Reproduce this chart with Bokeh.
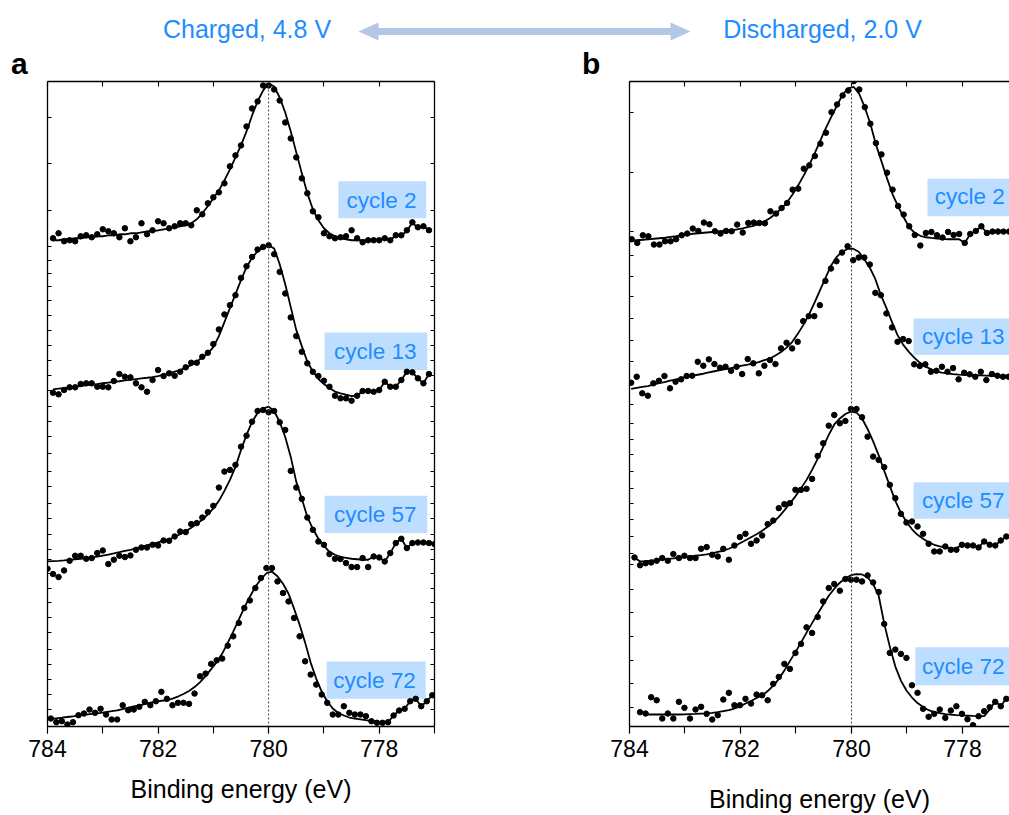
import numpy as np
from bokeh.plotting import figure
from bokeh.models import (Range1d, LinearAxis, FixedTicker, Span, CustomLabelingPolicy,
                          CustomJSTickFormatter)
from bokeh.layouts import column, row
from bokeh.core.properties import value
from bokeh.embed import file_html
from bokeh.resources import INLINE

STEP = 0.1  # eV sampling
NAN = float("nan")

# ---------------- panel a (charged, 4.8 V) : intensities (a.u., offset-stacked)
A2_START, A13_START, A57_START, A72_START = 783.9, 783.9, 784.0, 783.94
A2_dots = [489,494,486,487,486,491,492,490,493,498, 496,494,490,499,486,490,504,493,497,506,
           504,499,501,504,504,502,517,513,524,530, 535,544,561,572,582,601,619,626,642,642,
           638,627,605,589,570,549,534,516,510,494, 491,489,490,491,497,489,485,487,487,487,
           489,487,492,492,497,505,500,501,497]
A2_fit = [487,487,488,488,489,489,490,490,491,491, 492,492,493,493,494,494,495,496,496,497,
          498,499,500,501,502,504,508,514,521,529, 537,547,558,570,582,596,612,626,637,644,
          641,630,615,596,575,554,534,518,507,499, 494,491,489,488,487,487,487,487,487,488,
          489,487,492,492,496,505,499,501,497]
A13_dots = [334.3,332.7,337,339.7,339.7,343,343.7,343.7,340.3,340.3, 339.7,346,353,350.3,349.7,343.7,339.7,335.3,347,357,
            351,353.7,351.3,355.3,359.7,364.3,364.3,370.3,374.3,383, 397.7,412.7,422,432,449.3,461,470.3,477.7,480.3,482,
            473,455.3,433.7,409.7,391,375.3,363.7,355.3,351,346.3, 340.3,331.3,328.7,328.7,326.3,331.3,336,336,335.3,337,
            345.3,340.3,340.3,347,355.3,354.7,348.7,343.7,353]
A13_fit = [337.6,338.3,339,339.7,340.4,341,341.8,342.4,343,343.8, 344.5,345.2,345.8,346.6,347.2,348,348.7,349.3,350,351,
           352.3,353.8,355.5,357,359.5,362,365.5,369.5,373.7,380, 391,405,419,433,447,460,469.5,476,480,482,
           478.7,463,443,420,397,381,365.3,355.5,348,343, 339,335.5,333.7,332.3,331,331.3,336,336,335.3,337,
           345.3,340.3,340.3,347,355.3,354.7,348.7,343.7,353]
A57_dots = [158,152.7,149.7,156.3,166,171,171,168,168.7,173.7, 176.3,162.7,167,171,169.7,171.3,177,179.3,179.3,182,
            181.3,186.3,186,190.3,195.3,194.7,202.7,203.7,209.3,214.7, 221,239.3,255.3,257,262,280.3,291.3,305.3,316,317,
            314.7,316,304.7,297,256,239.3,228,209.3,197,185.3, 182,172.7,168,167.7,163.7,159.7,159.7,168.7,159.7,170.3,
            169.3,165.3,173.7,183.7,188,178.7,183.7,184.3,184.3,183.7,182.7]
A57_fit = [165.3,165.6,165.9,166.3,166.9,167.5,168,168.6,169.3,170.2, 171.2,172.2,173.3,174.6,176,177,178.5,180,181.5,183,
           184.5,186,187.5,190,192.5,195.5,199,203,207,212.5, 218.5,226,236,247,260,277,292,305,314,318.5,
           320.3,316,305,290,270,245,228,210,198,188, 181,175,172,170,169,168,167.5,167,167,170.3,
           169.3,165.3,173.7,183.7,188,178.7,183.7,184.3,184.3,183.7,182.7]
A72_dots = [8,4.3,5.3,2,4.3,11.3,13,17,13.7,17.7, 12,7,7,21.3,16.3,17,19.7,24.7,21.3,25.3,
            34.7,27.7,21.3,23.7,23.7,22.7,33,50.3,53,62.7, 66.3,68,81,90.3,103.7,118.7,126.3,138.7,148.7,158.7,
            158.7,145.3,133.7,125.3,108.7,90.3,65.3,52,42,32, 23.7,12,12,20.3,13.7,12,12,10.3,5.3,3.7,
            3.7,4.3,11,16,17.7,25.3,27.7,20.3,25.3,31.3]
A72_fit = [7.5,8.2,8.8,9.5,10.2,10.9,11.6,12.3,13,13.6, 14.5,15.3,16.2,17.5,18.8,20.2,21.2,22.5,23.8,24.8,
           25.8,26.3,28,30,32.5,35.5,39.5,44.5,50.5,57.5, 64.5,73,83.7,95,107,119,130,140,147.5,153.5,
           155,150.5,143,133,118,102,84,64,48,35, 25,18,13.5,11,9,8,7.2,6.3,5.5,4.8,
           4.3,4.3,11,16,17.7,25.3,27.7,20.3,25.3,31.3]

# ---------------- panel b (discharged, 2.0 V)
B2_START, B13_START, B57_START, B72_START = 784.06, 783.97, 783.91, 783.81
B2_dots = [484.7,488,484.3,492,491,482.7,482.7,486,486,488, 492,493.7,498.7,496.3,504.7,503,496,493.7,496.3,496,
           502.7,494.7,504.3,504.7,504.3,504,516,513.7,519.3,524.3, 537.7,538.7,558.7,562,571.3,583.7,594.7,615.3,623,632,
           637,646.3,638,620.3,603.7,584.3,573,554.7,537.7,521.3, 512.7,501,492.3,481.7,494.3,495.3,492,489.7,495.3,492.3,
           493.3,484.3,493.3,496.3,501,494.3,495.7,495.7,495.7,495.7]
B2_fit = [485.5,486.5,487,487.5,488,488.5,489,489.5,490.3,491, 492,492.7,493.5,494,494.5,495,495.5,496,496.5,497,
          498,499,500.3,501.5,503.5,506,509.5,514,519,525, 533,542,552,562.5,574.5,587,599.5,611,622,633,
          639,640.5,633.5,620,603.7,583,566,549,533,521, 510,500,494.5,491.5,490,489.3,488.7,488.3,488,488,
          488,484.3,493.3,496.3,501,494.3,495.7,495.7,495.7,495.7]
B13_dots = [344.3,350.3,333.7,331.3,343.7,346.3,351,338.7,345.3,347.7, 351,351.3,365.3,361.3,367.7,363,359.3,360.3,356.3,360.3,
            353,368,363.7,353.7,361.3,367,363,378.7,384.3,378.7, 385.3,406,411,411,422,446.3,458.7,466,474.7,481,
            467,469.7,469.7,462.7,434.3,432,413.7,399.7,385.3,388, 386,362.7,361,362.7,355.3,356.3,360.3,355.3,359,347.7,
            354.3,352.7,350.3,355.3,347,353,351.3,350.3,350.3]
B13_fit = [338.2,339.2,340.1,341,342.5,343.8,345,346.3,347.5,349, 350.3,351.3,352.3,353.3,354.6,355.8,357,358,359,360.3,
           361.4,362.5,363.7,365,367,368.5,371.5,375,379.5,385, 393,402,412,424,436.5,449,461.5,470,475.5,478.3,
           478.5,475.5,468,459.5,448,432,419,405,392,382.5, 375.5,369.5,364.5,360.5,358,355.5,354.5,353.7,352.9,352.5,
           352.2,352,351.8,351.6,351.4,351.3,351.3,351.3,351.3]
B57_dots = [169.3,161.5,163.5,164.3,166,168.7,166,172.7,168.7,171, 168.7,168.7,178,179.7,172,170.3,178,167,181.3,189.7,
            193,183,186.3,191.3,202.7,206.3,218.7,222.7,223.7,237, 237,238,248,271,283.7,301.3,312,303.7,306,318,
            318,309.7,290.3,270.3,267,259.7,242,228.7,213,204.3, 205.3,200.3,193,183,175.3,175.3,180.3,177,177,182,
            181.3,181.3,179.3,185.3,182,181.3,186.3,190.3]
B57_fit = [169.3,165.3,165.6,166,166.6,167.3,167.8,168.3,169,169.7, 170.3,171,171.7,172.5,173.5,174.8,176,178,180.5,183.5,
           186.5,189.5,192.5,196,200,204.5,210,216.5,223.5,230.5, 238.5,247,257,268,280,292,302.5,308.5,313,315.3,
           314.5,308.5,298,285.5,271.5,256,241,226,214,205, 197.5,192,188,184.5,182,180.5,179.3,178.7,178.5,182,
           181.3,181.3,179.3,185.3,182,181.3,186.3,190.3]
B72_dots = [14.3,13,29.3,26.3,8,13,8,24.7,18.7,8, 17,19.7,12.7,7,11.3,27,33.7,21.3,21.3,27.7,
            23,32,31.3,26.3,42.7,49.7,62.7,57.7,73.7,82.7, 99.3,93.7,109.7,125.3,138.7,142.7,136,147.7,147,147,
            145.3,151.3,144.3,134.7,102.7,73.7,77,72.7,68.7,41.3, 33.7,17.7,9.7,12.7,17,8.7,16,20.3,12.7,7.3,
            1.3,10.3,15.3,19.3,24.7,20.3,27.7]
B72_fit = [NAN,12,12,12,12,12,12,12,12.2,12.4, 12.6,12.9,13.2,13.7,14.3,15.5,16.5,18,20,23,
           25.5,28.5,31,35.5,41,47.5,56,65.5,74.5,84, 94,103.5,113,122,131,138,144,148.5,151.5,152.7,
           152.3,149.5,142.5,131,103,80,60,46,36,29, 23.5,19.5,16.3,14.5,13.3,12.3,11.8,11.4,11.1,10.9,
           10.6,10.4,10.3,17,25.3,20.3,28.3]

CYCLES = ["cycle 2", "cycle 13", "cycle 57", "cycle 72"]
X_MAJOR = [784, 782, 780, 778]
X_MINOR = [784, 783, 782, 781, 780, 779, 778, 777]
A_YTICKS = [610.3,563.7,517,480.3,467,453.7,440.3,427,412,397,382,367,352,337,320.3,305.3,290.3,273.7,
            255.3,240.3,223.7,208.7,192,177,167,153.7,138.7,123.7,108.7,93.7,77,62,47,32,17]
B_YTICKS = [615.3,555.3,495.3,472,450.3,430.3,408.7,387,365.3,343.7,322,303.7,287,272,255.3,238.7,
            223.7,207,190.3,173.7,162,137.7,114.3,90.3,66.3,43,18.7]

BLUE = "#1f8dff"
BOX = "#bddeff"
ARROW = "#b4c7e7"
FONT = "Liberation Sans"
HEAD_H = 80
PANEL_H = 815 - HEAD_H


def style_axis(ax, ticks, minor, tin, tout, labels=False):
    ax.ticker = FixedTicker(ticks=ticks, minor_ticks=minor)
    ax.axis_line_color = "black"
    ax.axis_line_width = 1.3
    ax.major_tick_line_color = "black"
    ax.minor_tick_line_color = "black"
    ax.major_tick_line_width = 1.1
    ax.minor_tick_line_width = 1.1
    ax.major_tick_in = tin
    ax.major_tick_out = tout
    ax.minor_tick_in = tin
    ax.minor_tick_out = tout
    ax.major_label_text_font = FONT
    ax.major_label_text_color = "black"
    if labels:
        ax.major_label_text_font_size = "23px"
        ax.major_label_standoff = 6
    else:
        # tick marks only: no label text is drawn and no room is kept for it
        ax.formatter = CustomJSTickFormatter(code="return ''")
        ax.major_label_text_font_size = "0px"
        ax.major_label_standoff = 0
        ax.major_label_policy = CustomLabelingPolicy(code="return new Set()")


def make_panel(width, bl, br, x_end, yticks, right_axis, label_standoff):
    p = figure(width=width, height=PANEL_H, x_range=Range1d(784, x_end), y_range=Range1d(0, 646),
               output_backend="svg", toolbar_location=None,
               min_border_left=bl, min_border_right=br, min_border_top=1, min_border_bottom=88)
    p.outline_line_color = None
    p.grid.visible = False
    xb = p.xaxis[0]
    style_axis(xb, X_MAJOR, X_MINOR, 0, 7, labels=True)
    xb.axis_label = "Binding energy (eV)"
    xb.axis_label_text_font = FONT
    xb.axis_label_text_font_size = "25px"
    xb.axis_label_text_font_style = "normal"
    xb.axis_label_text_color = "black"
    xb.axis_label_standoff = label_standoff
    xt = LinearAxis()
    style_axis(xt, X_MINOR, [], 5, 0)
    p.add_layout(xt, "above")
    style_axis(p.yaxis[0], yticks, [], 4, 0)
    if right_axis:
        yr = LinearAxis()
        style_axis(yr, yticks, [], 4, 0)
        p.add_layout(yr, "right")
    p.add_layout(Span(location=780, dimension="height", line_color="#444444",
                      line_dash="2 2", line_width=1))
    return p


def draw(p, start, dots, fit):
    e = start - STEP * np.arange(len(dots))
    p.line(e, fit, line_color="black", line_width=1.8)
    p.scatter(e, dots, size=5.5, color="black")


def tag(p, text, box, txy):
    x0, x1, y0, y1 = box
    p.quad(left=[x0], right=[x1], bottom=[y0], top=[y1], fill_color=BOX, line_color=None)
    p.text(x=[txy[0]], y=[txy[1]], text=[text], text_font=value(FONT), text_font_size="22.5px",
           text_color=BLUE, text_align="left", text_baseline="middle")


def blank(width, height):
    f = figure(width=width, height=height, x_range=Range1d(0, width),
               y_range=Range1d(height, 0),
               output_backend="svg", toolbar_location=None, min_border=0,
               x_axis_type=None, y_axis_type=None)
    f.outline_line_color = None
    f.grid.visible = False
    return f


pa = make_panel(423, 20, 16, 777.0, A_YTICKS, True, 15)
pb = make_panel(400, 20, 0, 777.153, B_YTICKS, False, 25)

# label boxes (drawn first, below data)
tag(pa, CYCLES[0], (778.74, 777.15, 509, 546), (778.59, 527.1))
tag(pa, CYCLES[1], (778.99, 777.13, 357, 394.7), (778.82, 375.5))
tag(pa, CYCLES[2], (778.99, 777.13, 193.7, 231), (778.82, 212.1))
tag(pa, CYCLES[3], (778.95, 777.16, 27.7, 65), (778.83, 46.5))
tag(pb, CYCLES[0], (778.63, 776.5, 511, 548.7), (778.5, 530.5))
tag(pb, CYCLES[1], (778.88, 776.5, 372, 408.7), (778.73, 390.5))
tag(pb, CYCLES[2], (778.88, 776.5, 208, 244.7), (778.73, 226.5))
tag(pb, CYCLES[3], (778.85, 776.5, 41.3, 79.3), (778.73, 60.5))

draw(pa, A2_START, A2_dots, A2_fit)
draw(pa, A13_START, A13_dots, A13_fit)
draw(pa, A57_START, A57_dots, A57_fit)
draw(pa, A72_START, A72_dots, A72_fit)
draw(pb, B2_START, B2_dots, B2_fit)
draw(pb, B13_START, B13_dots, B13_fit)
draw(pb, B57_START, B57_dots, B57_fit)
draw(pb, B72_START, B72_dots, B72_fit)

# empty spacers left of each panel
la = blank(27, PANEL_H)
lb = blank(159, PANEL_H)

# header: the two states, the double arrow and the panel letters
hd = blank(1009, HEAD_H)
hd.patch(x=[358, 378, 378, 670, 670, 690, 670, 670, 378, 378],
         y=[31, 22, 27.5, 27.5, 22, 31, 40, 34.5, 34.5, 40], fill_color=ARROW, line_color=None)
hd.text(x=[246.5, 822], y=[28.3, 28.3], text=["Charged, 4.8 V", "Discharged, 2.0 V"],
        text_font=value(FONT), text_font_size="25px", text_color=BLUE,
        text_align="center", text_baseline="middle")
hd.text(x=[10.5, 581.5], y=[63, 63], text=["a", "b"], text_font=value(FONT),
        text_font_size="30px", text_font_style="bold", text_color="black",
        text_baseline="middle")

layout = column(hd, row(la, pa, lb, pb))
open("out.html", "w").write(file_html(layout, INLINE))
